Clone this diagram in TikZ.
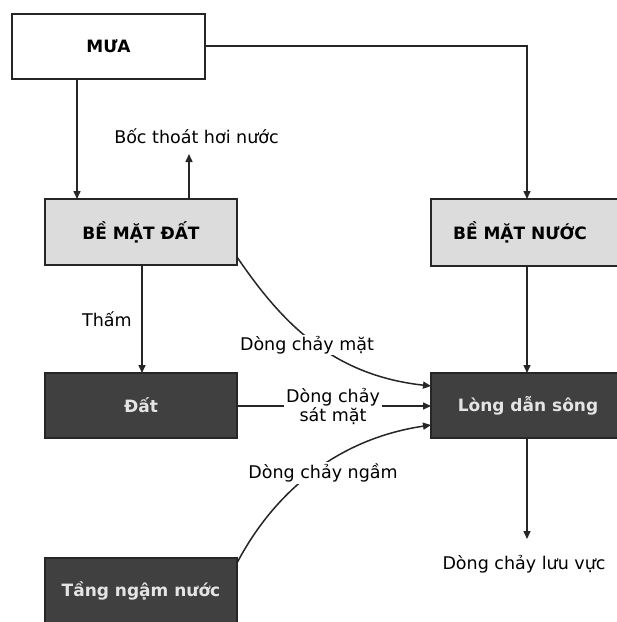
\documentclass[tikz,border=0pt]{standalone}
\usepackage{fontspec}
\setmainfont{DejaVu Sans}
\usetikzlibrary{arrows.meta}
\definecolor{boxline}{HTML}{262626}
\definecolor{lightfill}{HTML}{DCDCDC}
\definecolor{darkfill}{HTML}{404040}
\definecolor{darktext}{HTML}{E4E4E4}
\begin{document}
\begin{tikzpicture}[x=1pt,y=-1pt,
  every node/.style={font=\fontsize{17.5}{20}\selectfont},
  boxbase/.style={draw=boxline, line width=2pt, inner sep=0pt, minimum width=192pt, minimum height=66pt, font=\fontsize{17}{20}\selectfont\bfseries},
  whitebox/.style={boxbase, fill=white, text=black},
  lightbox/.style={boxbase, fill=lightfill, text=black},
  darkbox/.style={boxbase, fill=darkfill, text=darktext},
  lbl/.style={fill=white, inner sep=1.5pt, align=center, text=black},
  conn/.style={draw=black!85, line width=1.5pt},
  arr/.style={conn, -{Triangle[length=8pt,width=7pt]}}
]
\useasboundingbox (0,0) rectangle (617,622);
\fill[white] (0,0) rectangle (617,622);

% boxes
\node[whitebox, minimum width=193pt, minimum height=65pt] (mua) at (108.5,46.5) {MƯA};
\node[lightbox] (bmd) at (141,232) {BỀ MẶT ĐẤT};
\node[lightbox, minimum width=194pt, minimum height=67pt] (bmn) at (528,232.5) {BỀ MẶT NƯỚC\hspace*{16pt}};
\node[darkbox, minimum height=65pt] (dat) at (141,405.5) {Đất};
\node[darkbox, minimum width=194pt, minimum height=65pt] (lds) at (528,405.5) {Lòng dẫn sông};
\node[darkbox] (tnn) at (141,591) {Tầng ngậm nước};

% free labels
\node[lbl] (boc) at (196.5,136) {Bốc thoát hơi nước};
\node[lbl] (luuvuc) at (524,564) {Dòng chảy lưu vực};

% connector coordinates
\coordinate (muaA) at (77,79);
\coordinate (bmdA) at (77,199);
\coordinate (bmdB) at (189,199);
\coordinate (bocB) at (189,154);
\coordinate (muaR) at (205,46);
\coordinate (corner) at (527,46);
\coordinate (bmnT) at (527,199);
\coordinate (bmnB) at (527,266);
\coordinate (ldsT) at (527,373);
\coordinate (ldsB) at (527,438);
\coordinate (outB) at (527,539);
\coordinate (bmdC) at (142,265);
\coordinate (datT) at (142,373);
\coordinate (bmdR) at (237,257);
\coordinate (in1) at (431,386);
\coordinate (in2) at (431,406);
\coordinate (datR) at (237,406);
\coordinate (in3) at (431,425);
\coordinate (tnnR) at (237,563);

% straight connectors
\draw[arr] (muaA) -- (bmdA);
\draw[arr] (bmdB) -- (bocB);
\draw[arr] (muaR) -- (corner) -- (bmnT);
\draw[arr] (bmdC) -- node[lbl, left=8pt, pos=0.5] (tham) {Thấm} (datT);
\draw[arr] (bmnB) -- (ldsT);
\draw[arr] (ldsB) -- (outB);

% flows into river channel
\draw[arr] (bmdR) .. controls (280,320) and (330,375) .. (in1);
\node[lbl] (mat) at (307,345) {Dòng chảy mặt};
\draw[arr] (datR) -- (in2);
\node[lbl, inner sep=2pt] (satmat) at (333,407) {Dòng chảy\\[-1pt]sát mặt};
\draw[arr] (tnnR) .. controls (270,500) and (330,440) .. (in3);
\node[lbl] (ngam) at (323,473) {Dòng chảy ngầm};
\end{tikzpicture}
\end{document}
